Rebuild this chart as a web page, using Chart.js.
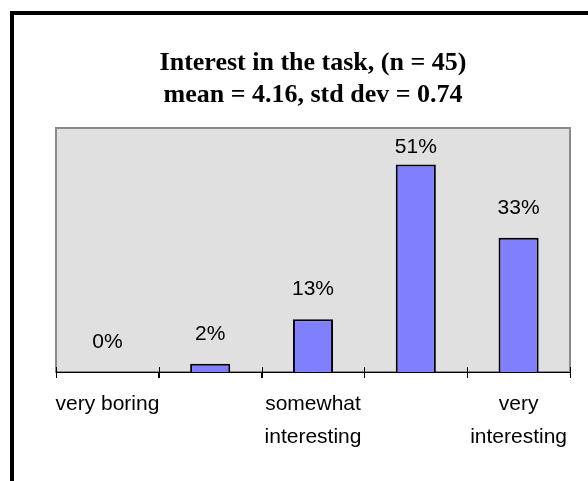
<!DOCTYPE html>
<html>
<head>
<meta charset="utf-8">
<title>Interest in the task</title>
<script src="https://cdn.jsdelivr.net/npm/chart.js@4"></script>
<style>
  html, body { margin: 0; padding: 0; background: #fff; }
  #wrap { position: relative; width: 588px; height: 481px; }
</style>
</head>
<body>
<div id="wrap"><canvas id="interestChart"></canvas></div>
<script>
// Survey answers, share of respondents per rating
const categories = ['very boring', '', ['somewhat', 'interesting'], '', ['very', 'interesting']];
const percents = [0, 2, 13, 51, 33];
const yMin = 0;
const yMax = 60;

const titleLines = ['Interest in the task, (n = 45)', 'mean = 4.16, std dev = 0.74'];

const sansFont = '"Liberation Sans", Arial, Helvetica, sans-serif';
const serifFont = '"Liberation Serif", "Times New Roman", Times, serif';

// white page, black frame corner and grey plot panel
const panel = {
  id: 'panel',
  beforeDraw(chart) {
    const { ctx, chartArea: a } = chart;
    ctx.save();
    ctx.fillStyle = '#fff';
    ctx.fillRect(0, 0, chart.width, chart.height);
    ctx.fillStyle = '#000';
    ctx.fillRect(10, 11, 4, chart.height);
    ctx.fillRect(10, 11, chart.width, 4);
    ctx.fillStyle = '#e0e0e0';
    ctx.fillRect(a.left, a.top, a.right - a.left, a.bottom - a.top);
    ctx.strokeStyle = '#8a8a8a';
    ctx.lineWidth = 2;
    ctx.strokeRect(a.left, a.top, a.right - a.left, a.bottom - a.top);
    ctx.restore();
  }
};

// tick marks crossing the category axis, between categories
const axisTicks = {
  id: 'axisTicks',
  afterDraw(chart) {
    const { ctx } = chart;
    const x = chart.scales.x;
    const n = categories.length;
    ctx.save();
    ctx.strokeStyle = '#000';
    ctx.lineWidth = 1;
    for (let i = 0; i <= n; i++) {
      const px = Math.round(x.left + i * (x.right - x.left) / n) + 0.5;
      ctx.beginPath();
      ctx.moveTo(px, x.top - 5);
      ctx.lineTo(px, x.top + 6);
      ctx.stroke();
    }
    ctx.restore();
  }
};

// percentage above each bar, kept inside the panel
const valueLabels = {
  id: 'valueLabels',
  afterDatasetsDraw(chart) {
    const { ctx, chartArea } = chart;
    const meta = chart.getDatasetMeta(0);
    ctx.save();
    ctx.font = '21px ' + sansFont;
    ctx.fillStyle = '#000';
    ctx.textAlign = 'center';
    ctx.textBaseline = 'alphabetic';
    meta.data.forEach((bar, i) => {
      const y = Math.max(bar.y - 24, chartArea.top + 25);
      ctx.fillText(percents[i] + '%', bar.x, y);
    });
    ctx.restore();
  }
};

new Chart(document.getElementById('interestChart').getContext('2d'), {
  type: 'bar',
  data: {
    labels: categories,
    datasets: [{
      data: percents,
      backgroundColor: '#8080ff',
      borderColor: '#000',
      borderWidth: 2,
      borderSkipped: 'bottom',
      categoryPercentage: 1,
      barPercentage: 0.39,
    }]
  },
  options: {
    responsive: true,
    maintainAspectRatio: false,
    animation: false,
    layout: { padding: { left: 56, right: 18, top: 0, bottom: 0 } },
    plugins: {
      legend: { display: false },
      tooltip: { enabled: false },
      title: {
        display: true,
        text: titleLines,
        color: '#000',
        font: { family: serifFont, size: 26, weight: 'bold', lineHeight: 32 / 26 },
        padding: { top: 47, bottom: 17 }
      }
    },
    scales: {
      x: {
        grid: { display: true, drawOnChartArea: false, drawTicks: true, tickLength: 6, color: '#000' },
        border: { display: true, color: '#000', width: 1 },
        ticks: {
          color: '#000',
          maxRotation: 0,
          autoSkip: false,
          padding: 10,
          font: { family: sansFont, size: 21, lineHeight: 1.55 }
        },
        afterFit(scale) { scale.height = 109; }
      },
      y: {
        display: false,
        min: yMin,
        max: yMax
      }
    }
  },
  plugins: [panel, axisTicks, valueLabels]
});
</script>
</body>
</html>
